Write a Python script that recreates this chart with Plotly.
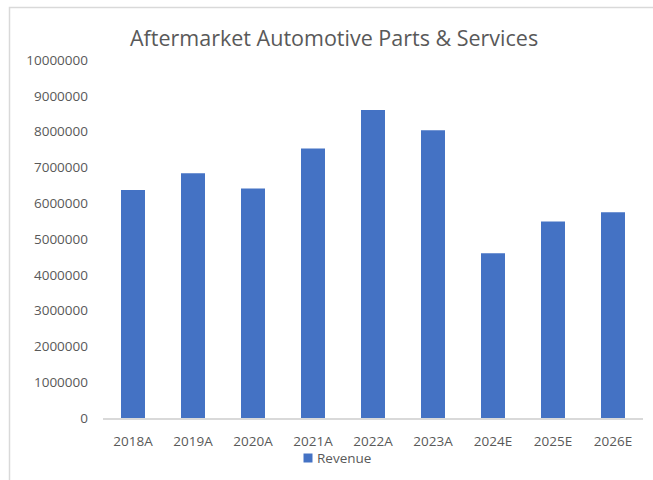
import plotly.graph_objects as go

# Revenue by year (A = actual, E = estimate)
years = ["2018A", "2019A", "2020A", "2021A", "2022A", "2023A", "2024E", "2025E", "2026E"]
revenue = [6370000, 6840000, 6410000, 7530000, 8600000, 8040000, 4600000, 5490000, 5750000]
y_ticks = [0, 1000000, 2000000, 3000000, 4000000, 5000000, 6000000, 7000000, 8000000, 9000000, 10000000]
series_name = "Revenue"
chart_title = "Aftermarket Automotive Parts & Services"

TEXT = "#595959"
LINE = "#D9D9D9"
BAR = "#4472C4"
FONT = "'Open Sans', Lato, sans-serif"

W, H = 653, 480
L, R, T, B = 103, 10, 60, 62
plot_w = W - L - R
plot_h = H - T - B


def px_x(p):
    return (p - L) / plot_w


def px_y(q):
    return (H - B - q) / plot_h


fig = go.Figure(
    go.Bar(
        x=years,
        y=revenue,
        name=series_name,
        marker=dict(color=BAR, line=dict(width=0)),
        width=0.4,
        showlegend=False,
    )
)

fig.update_layout(
    width=W,
    height=H,
    margin=dict(l=L, r=R, t=T, b=B, pad=0),
    paper_bgcolor="white",
    plot_bgcolor="white",
    font=dict(family=FONT, color=TEXT, size=13.5),
    showlegend=False,
    xaxis=dict(
        type="category",
        range=[-0.5, len(years) - 0.5],
        showgrid=False,
        zeroline=False,
        showline=True,
        linecolor=LINE,
        linewidth=1.5,
        ticks="",
        ticklabelstandoff=10,
        tickfont=dict(size=13.5, color=TEXT),
        fixedrange=True,
    ),
    yaxis=dict(
        range=[0, 10000000],
        tickvals=y_ticks,
        ticktext=[str(v) for v in y_ticks],
        showgrid=False,
        zeroline=False,
        showline=False,
        ticks="",
        ticklabelstandoff=14,
        tickfont=dict(size=13.5, color=TEXT),
        fixedrange=True,
    ),
    annotations=[
        dict(
            text=chart_title,
            xref="paper",
            yref="paper",
            x=px_x(334),
            y=px_y(38),
            xanchor="center",
            yanchor="middle",
            showarrow=False,
            font=dict(size=21.5, color=TEXT, family=FONT),
        ),
        # legend label
        dict(
            text=series_name,
            xref="paper",
            yref="paper",
            x=px_x(315),
            y=px_y(458),
            xanchor="left",
            yanchor="middle",
            showarrow=False,
            font=dict(size=13.5, color=TEXT, family=FONT),
        ),
    ],
    shapes=[
        # chart border
        dict(
            type="rect",
            xref="paper",
            yref="paper",
            x0=px_x(9.5),
            y0=px_y(490),
            x1=px_x(670),
            y1=px_y(7.5),
            line=dict(color=LINE, width=1.5),
            fillcolor="rgba(0,0,0,0)",
            layer="below",
        ),
        # legend swatch
        dict(
            type="rect",
            xref="paper",
            yref="paper",
            x0=px_x(303.5),
            y0=px_y(462.5),
            x1=px_x(312.5),
            y1=px_y(453.5),
            line=dict(width=0),
            fillcolor=BAR,
        ),
    ],
)

fig.write_html("out.html")
